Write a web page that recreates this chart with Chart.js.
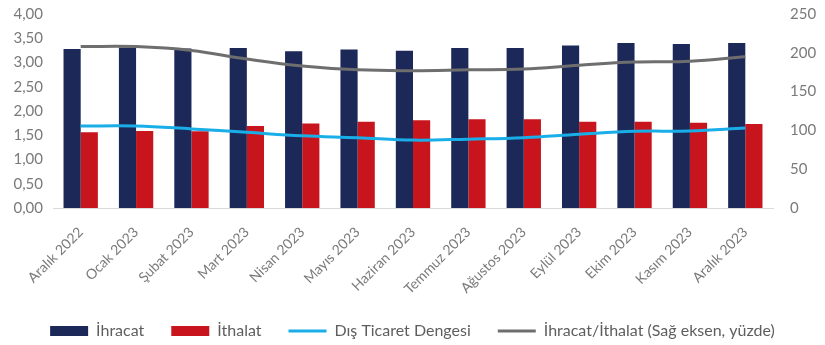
<!DOCTYPE html>
<html>
<head>
<meta charset="utf-8">
<script src="https://cdn.jsdelivr.net/npm/chart.js@4.4.0/dist/chart.umd.min.js"></script>
<style>
  html, body { margin: 0; padding: 0; background: #fff; }
  #wrap { width: 825px; height: 345px; }
</style>
</head>
<body>
<div id="wrap"><canvas id="dtChart"></canvas></div>
<script>
// aylar
const months = ['Aralık 2022', 'Ocak 2023', 'Şubat 2023', 'Mart 2023', 'Nisan 2023', 'Mayıs 2023',
    'Haziran 2023', 'Temmuz 2023', 'Ağustos 2023', 'Eylül 2023', 'Ekim 2023', 'Kasım 2023', 'Aralık 2023'];

// sol eksen
const ihracat = [3.28, 3.31, 3.29, 3.30, 3.23, 3.27, 3.24, 3.30, 3.30, 3.35, 3.40, 3.38, 3.40];
const ithalat = [1.56, 1.59, 1.58, 1.69, 1.74, 1.78, 1.81, 1.83, 1.83, 1.78, 1.78, 1.76, 1.73];
const disTicaretDengesi = [1.69, 1.69, 1.63, 1.56, 1.49, 1.45, 1.40, 1.42, 1.45, 1.52, 1.58, 1.59, 1.65];

// sağ eksen (yüzde)
const ihracatIthalat = [208, 208, 203, 192, 183, 178, 177, 178, 179, 184, 188, 189, 195];

const leftTicks = { min: 0, max: 4, step: 0.5 };
const rightTicks = { min: 0, max: 250, step: 50 };

const textColor = '#7a7a7a';
const fontFamily = 'Lato, "Noto Sans", sans-serif';

// dikey eksenlerin boyutunu sabitle (tick padding üst boşluğu büyütmesin)
function fixYAxis(width) {
    return scale => {
        scale.width = width;
        scale.paddingTop = 14;
        scale.paddingBottom = 0;
    };
}

new Chart(document.getElementById('dtChart'), {
    data: {
        labels: months,
        datasets: [
            {
                type: 'bar',
                label: 'İhracat',
                data: ihracat,
                backgroundColor: '#1c2858',
                pointStyle: 'rect',
                yAxisID: 'y',
                order: 2
            },
            {
                type: 'bar',
                label: 'İthalat',
                data: ithalat,
                backgroundColor: '#c8141c',
                pointStyle: 'rect',
                yAxisID: 'y',
                order: 2
            },
            {
                type: 'line',
                label: 'Dış Ticaret Dengesi',
                data: disTicaretDengesi,
                borderColor: '#1aaee8',
                backgroundColor: '#1aaee8',
                borderWidth: 3,
                pointRadius: 0,
                pointStyle: 'line',
                tension: 0.4,
                yAxisID: 'y',
                order: 1
            },
            {
                type: 'line',
                label: 'İhracat/İthalat (Sağ eksen, yüzde)',
                data: ihracatIthalat,
                borderColor: '#6e6e6e',
                backgroundColor: '#6e6e6e',
                borderWidth: 3,
                pointRadius: 0,
                pointStyle: 'line',
                tension: 0.4,
                yAxisID: 'y1',
                order: 1
            }
        ]
    },
    options: {
        responsive: true,
        maintainAspectRatio: false,
        animation: false,
        layout: { padding: { top: 0, bottom: -4, left: 0, right: 0 } },
        datasets: {
            bar: { categoryPercentage: 0.62, barPercentage: 1.0 }
        },
        plugins: {
            tooltip: { enabled: false },
            legend: {
                position: 'bottom',
                labels: {
                    usePointStyle: true,
                    pointStyleWidth: 38,
                    boxHeight: 10,
                    padding: 27,
                    color: '#5e5e5e',
                    font: { family: fontFamily, size: 16 },
                    // lejant sırası veri sırasıyla aynı kalsın
                    sort: (a, b) => a.datasetIndex - b.datasetIndex
                }
            }
        },
        scales: {
            x: {
                grid: { display: false, drawTicks: false },
                border: { display: true, color: '#d9d9d9', width: 1 },
                ticks: {
                    color: textColor,
                    font: { family: fontFamily, size: 14 },
                    maxRotation: 45,
                    minRotation: 45,
                    padding: 16
                },
                afterFit: scale => { scale.height = 88; }
            },
            y: {
                position: 'left',
                min: leftTicks.min,
                max: leftTicks.max,
                grid: { display: false, drawTicks: false },
                border: { display: false },
                ticks: {
                    stepSize: leftTicks.step,
                    color: textColor,
                    padding: 10,
                    font: { family: fontFamily, size: 15 },
                    callback: v => v.toFixed(2).replace('.', ',')
                },
                afterFit: fixYAxis(53)
            },
            y1: {
                position: 'right',
                min: rightTicks.min,
                max: rightTicks.max,
                grid: { display: false, drawTicks: false },
                border: { display: false },
                ticks: {
                    stepSize: rightTicks.step,
                    color: textColor,
                    padding: 17,
                    font: { family: fontFamily, size: 15 }
                },
                afterFit: fixYAxis(52)
            }
        }
    }
});
</script>
</body>
</html>
